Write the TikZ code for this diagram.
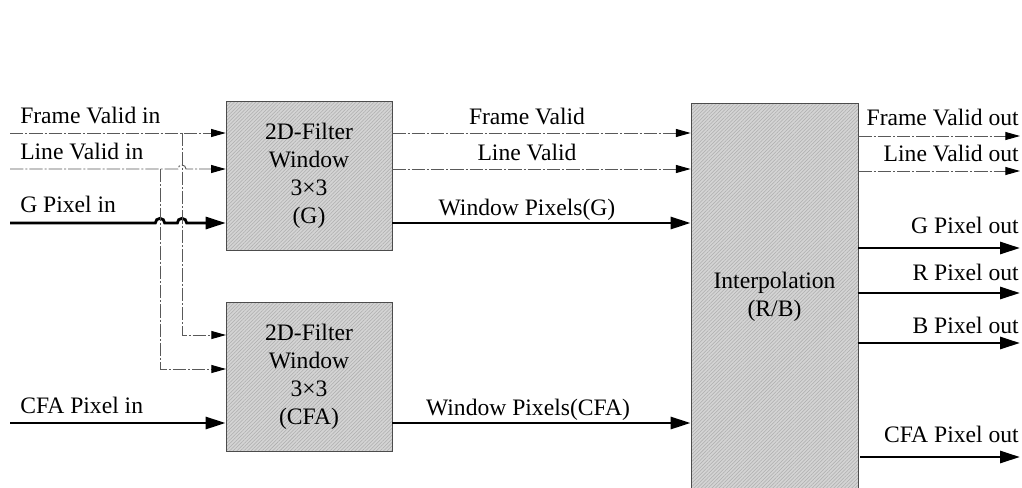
\documentclass[tikz,border=0pt]{standalone}
\usepackage{fontspec}
\setmainfont{Liberation Serif}
\usetikzlibrary{arrows.meta,patterns.meta}

\begin{document}
\begin{tikzpicture}[x=0.75pt,y=-0.75pt,
  every node/.style={font=\fontsize{17.7}{21}\selectfont, inner sep=0pt},
  block/.style={draw=black!70, line width=0.6pt,
    preaction={fill=black!17},
    pattern={Lines[angle=45,distance=1.9pt,line width=0.4pt]}, pattern color=black!32,
    minimum width=124.5pt, minimum height=111.75pt, align=center},
  sig/.style={draw=black!65, line width=0.7pt,
    dash pattern=on 10pt off 1.5pt on 1.5pt off 1.5pt},
  sigarrow/.style={sig, -{Triangle[length=11pt,width=6pt,black]}},
  data/.style={line width=2.1pt},
  dataarrow/.style={data, -{Triangle[length=15pt,width=9pt]}},
  lbl/.style={anchor=base west},
  rlbl/.style={anchor=base east},
  clbl/.style={anchor=base}]

\clip (0,0) rectangle (1022,487);
\useasboundingbox (0,0) rectangle (1022,487);
\fill[white] (0,0) rectangle (1022,487);

% processing blocks
\node[block] (gbox) at (309,175.5) {2D-Filter\\Window\\3\texttimes3\\(G)};
\node[block] (cbox) at (309,376.5) {2D-Filter\\Window\\3\texttimes3\\(CFA)};
\node[block, minimum width=125.25pt, minimum height=290pt] (ibox) at (774.5,296.5)
  {Interpolation\\(R/B)};

% input ends
\coordinate (fvin) at (10,133);
\coordinate (lvin) at (10,169);
\coordinate (gin)  at (10,223);
\coordinate (cin)  at (10,423);
\coordinate (fvtap) at (182,133);
\coordinate (lvtap) at (160,169);
\coordinate (cfv) at (226,335);
\coordinate (clv) at (226,369);

% output ends
\coordinate (fvout) at (1020,136);
\coordinate (lvout) at (1020,171);
\coordinate (gout)  at (1020,248);
\coordinate (rout)  at (1020,293);
\coordinate (bout)  at (1020,343);
\coordinate (cout)  at (1020,457);

% inputs to the G window
\draw[sigarrow] (fvin) -- (gbox.west |- fvin);
\draw[sigarrow] (lvin) -- ([xshift=-3pt]lvin -| fvtap)
  arc[start angle=180,end angle=0,radius=3pt] -- (gbox.west |- lvin);
\draw[dataarrow] (gin) -- ([xshift=-3.5pt]gin -| lvtap)
  arc[start angle=180,end angle=0,radius=3.5pt] -- ([xshift=-3.5pt]gin -| fvtap)
  arc[start angle=180,end angle=0,radius=3.5pt] -- (gbox.west |- gin);

% valid signals branched to the CFA window
\draw[sigarrow] (fvtap) |- (cfv);
\draw[sigarrow] (lvtap) |- (clv);
\draw[dataarrow] (cin) -- (cbox.west |- cin);

% windows to interpolation
\draw[sigarrow] (gbox.east |- fvin) -- (ibox.west |- fvin);
\draw[sigarrow] (gbox.east |- lvin) -- (ibox.west |- lvin);
\draw[dataarrow] (gbox.east |- gin) -- (ibox.west |- gin);
\draw[dataarrow] (cbox.east |- cin) -- (ibox.west |- cin);

% outputs
\draw[sigarrow] (ibox.east |- fvout) -- (fvout);
\draw[sigarrow] (ibox.east |- lvout) -- (lvout);
\draw[dataarrow] (ibox.east |- gout) -- (gout);
\draw[dataarrow] (ibox.east |- rout) -- (rout);
\draw[dataarrow] (ibox.east |- bout) -- (bout);
\draw[dataarrow] ([xshift=1.5pt]ibox.east |- cout) -- (cout);

% input labels
\node[lbl] (tfvin) at (20,123) {Frame Valid in};
\node[lbl] (tlvin) at (20,159) {Line Valid in};
\node[lbl] (tgin)  at (20,212) {G Pixel in};
\node[lbl] (tcin)  at (20,413) {CFA Pixel in};

% link labels
\node[clbl] (tfv) at (527,124) {Frame Valid};
\node[clbl] (tlv) at (527,160) {Line Valid};
\node[clbl] (twg) at (527,215) {Window Pixels(G)};
\node[clbl] (twc) at (528,415) {Window Pixels(CFA)};

% output labels
\node[rlbl] (tfvout) at (1019,125) {Frame Valid out};
\node[rlbl] (tlvout) at (1019,161) {Line Valid out};
\node[rlbl] (tgout)  at (1019,233) {G Pixel out};
\node[rlbl] (trout)  at (1019,280) {R Pixel out};
\node[rlbl] (tbout)  at (1019,333) {B Pixel out};
\node[rlbl] (tcout)  at (1019,442) {CFA Pixel out};
\end{tikzpicture}
\end{document}
